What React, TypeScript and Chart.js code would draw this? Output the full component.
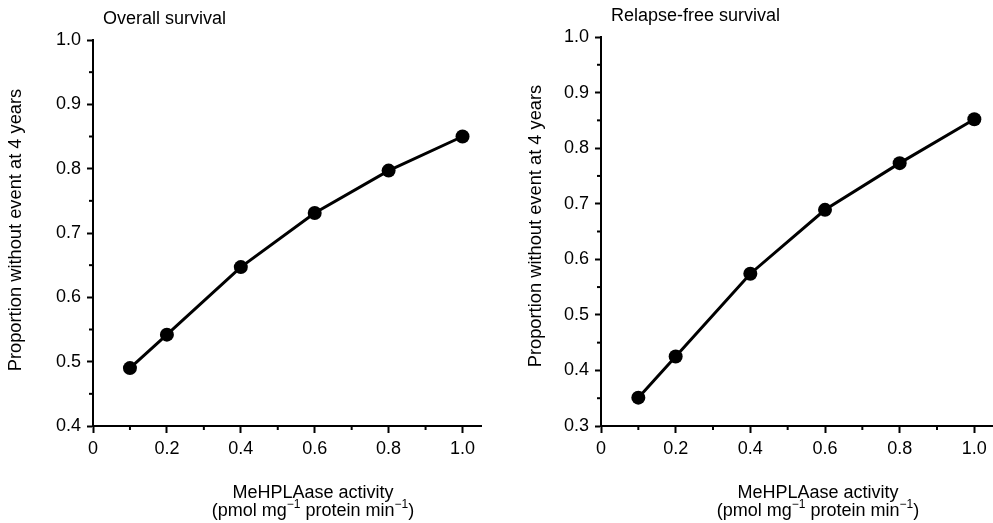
import React, { useEffect, useRef } from "react";
import { Chart, registerables } from "chart.js";

Chart.register(...registerables);

// ---------- data ----------
const X_VALUES = [0.1, 0.2, 0.4, 0.6, 0.8, 1.0];
const OVERALL_SURVIVAL = [0.49, 0.542, 0.647, 0.731, 0.797, 0.85];
const RELAPSE_FREE_SURVIVAL = [0.351, 0.425, 0.574, 0.689, 0.773, 0.852];

const TITLE_OVERALL = "Overall survival";
const TITLE_RELAPSE = "Relapse-free survival";
const Y_TITLE = "Proportion without event at 4 years";
const X_TITLE_LINE1 = "MeHPLAase activity";
const X_TITLE_LINE2 = [
  { t: "(pmol mg", sup: false },
  { t: "\u22121", sup: true },
  { t: " protein min", sup: false },
  { t: "\u22121", sup: true },
  { t: ")", sup: false },
];

const X_MIN = 0;
const X_MAX = 1.05;
const X_STEP = 0.2;
const Y_MAX = 1.0;
const Y_STEP = 0.1;
const Y_MIN_OVERALL = 0.4;
const Y_MIN_RELAPSE = 0.3;

const FONT = "'Liberation Sans', Arial, Helvetica, sans-serif";

type Panel = {
  canvasLeft: number;
  width: number;
  height: number;
  title: string;
  values: number[];
  yMin: number;
  axisWidth: number;
  padRight: number;
  padTop: number;
  yTitleX: number;
  yTitleY: number;
  xTitleX: number;
};

function makeOverlay(p: Panel) {
  return {
    id: "overlay",
    afterDraw(chart: any) {
      const ctx = chart.ctx as CanvasRenderingContext2D;
      const xs = chart.scales.x;
      const ys = chart.scales.y;
      const area = chart.chartArea;
      ctx.save();
      ctx.strokeStyle = "#000";
      ctx.fillStyle = "#000";
      ctx.lineWidth = 2;
      // minor ticks x
      for (let k = 1; k * 0.1 < X_MAX; k += 2) {
        const px = xs.getPixelForValue(k * 0.1);
        ctx.beginPath();
        ctx.moveTo(px, area.bottom);
        ctx.lineTo(px, area.bottom + 4);
        ctx.stroke();
      }
      // minor ticks y
      for (let v = p.yMin + 0.05; v < Y_MAX; v += 0.1) {
        const py = ys.getPixelForValue(v);
        ctx.beginPath();
        ctx.moveTo(area.left, py);
        ctx.lineTo(area.left - 4, py);
        ctx.stroke();
      }
      // chart title
      ctx.font = `18px ${FONT}`;
      ctx.textAlign = "left";
      ctx.textBaseline = "alphabetic";
      ctx.fillText(p.title, area.left + 10, area.top - 16);
      // y title
      ctx.save();
      ctx.translate(p.yTitleX, p.yTitleY);
      ctx.rotate(-Math.PI / 2);
      ctx.textAlign = "center";
      ctx.font = `18.3px ${FONT}`;
      ctx.fillText(Y_TITLE, 0, 0);
      ctx.restore();
      // x title line 1
      ctx.font = `18px ${FONT}`;
      ctx.textAlign = "center";
      ctx.fillText(X_TITLE_LINE1, p.xTitleX, 498);
      // x title line 2 with superscripts
      const big = `18px ${FONT}`;
      const small = `12px ${FONT}`;
      let total = 0;
      const widths = X_TITLE_LINE2.map((s) => {
        ctx.font = s.sup ? small : big;
        const w = ctx.measureText(s.t).width;
        total += w;
        return w;
      });
      let cx = p.xTitleX - total / 2;
      ctx.textAlign = "left";
      X_TITLE_LINE2.forEach((s, i) => {
        ctx.font = s.sup ? small : big;
        ctx.fillText(s.t, cx, s.sup ? 516 - 8 : 516);
        cx += widths[i];
      });
      ctx.restore();
    },
  };
}

function ChartPanel({ p }: { p: Panel }) {
  const ref = useRef<HTMLCanvasElement | null>(null);
  useEffect(() => {
    if (!ref.current) return;
    const chart = new Chart(ref.current, {
      type: "line",
      data: {
        datasets: [
          {
            data: X_VALUES.map((x, i) => ({ x, y: p.values[i] })),
            borderColor: "#000",
            backgroundColor: "#000",
            borderWidth: 3,
            pointRadius: 7,
            pointBackgroundColor: "#000",
            pointBorderColor: "#000",
            pointBorderWidth: 0,
            tension: 0,
            clip: false,
          },
        ],
      },
      options: {
        responsive: false,
        animation: false,
        devicePixelRatio: 1,
        layout: {
          autoPadding: false,
          padding: { left: 0, right: p.padRight, top: p.padTop, bottom: 0 },
        },
        plugins: {
          legend: { display: false },
          tooltip: { enabled: false },
          title: { display: false },
        },
        scales: {
          x: {
            type: "linear",
            min: X_MIN,
            max: X_MAX,
            afterFit: (s: any) => {
              s.height = p.height - 426;
              s.paddingLeft = 0;
              s.paddingRight = 0;
            },
            border: { display: true, color: "#000", width: 2 },
            grid: {
              display: true,
              drawOnChartArea: false,
              drawTicks: true,
              tickLength: 7,
              tickWidth: 2,
              tickColor: "#000",
            },
            ticks: {
              stepSize: X_STEP,
              includeBounds: false,
              padding: 5,
              color: "#000",
              maxRotation: 0,
              autoSkip: false,
              font: { family: FONT, size: 18 },
              callback: (v: any) => (Number(v) === 0 ? "0" : Number(v).toFixed(1)),
            },
          },
          y: {
            type: "linear",
            min: p.yMin,
            max: Y_MAX,
            afterFit: (s: any) => {
              s.width = p.axisWidth;
              s.paddingTop = 0;
              s.paddingBottom = 0;
            },
            border: { display: true, color: "#000", width: 2 },
            grid: {
              display: true,
              drawOnChartArea: false,
              drawTicks: true,
              tickLength: 6,
              tickWidth: 2,
              tickColor: "#000",
            },
            ticks: {
              stepSize: Y_STEP,
              includeBounds: false,
              padding: 6,
              color: "#000",
              autoSkip: false,
              font: { family: FONT, size: 18 },
              callback: (v: any) => Number(v).toFixed(1),
            },
          },
        },
      },
      plugins: [makeOverlay(p)],
    } as any);
    return () => chart.destroy();
  }, [p]);
  return (
    <canvas
      ref={ref}
      width={p.width}
      height={p.height}
      style={{ position: "absolute", left: p.canvasLeft, top: 0, width: p.width, height: p.height }}
    />
  );
}

const LEFT_PANEL: Panel = {
  canvasLeft: 0,
  width: 496,
  height: 523,
  title: TITLE_OVERALL,
  values: OVERALL_SURVIVAL,
  yMin: Y_MIN_OVERALL,
  axisWidth: 93,
  padRight: 15,
  padTop: 40,
  yTitleX: 21,
  yTitleY: 230,
  xTitleX: 313,
};

const RIGHT_PANEL: Panel = {
  canvasLeft: 496,
  width: 497,
  height: 523,
  title: TITLE_RELAPSE,
  values: RELAPSE_FREE_SURVIVAL,
  yMin: Y_MIN_RELAPSE,
  axisWidth: 105,
  padRight: 0,
  padTop: 37,
  yTitleX: 45,
  yTitleY: 226,
  xTitleX: 322,
};

export default function App() {
  return (
    <div style={{ position: "fixed", left: 0, top: 0, width: 993, height: 523, background: "#fff" }}>
      <ChartPanel p={LEFT_PANEL} />
      <ChartPanel p={RIGHT_PANEL} />
    </div>
  );
}
